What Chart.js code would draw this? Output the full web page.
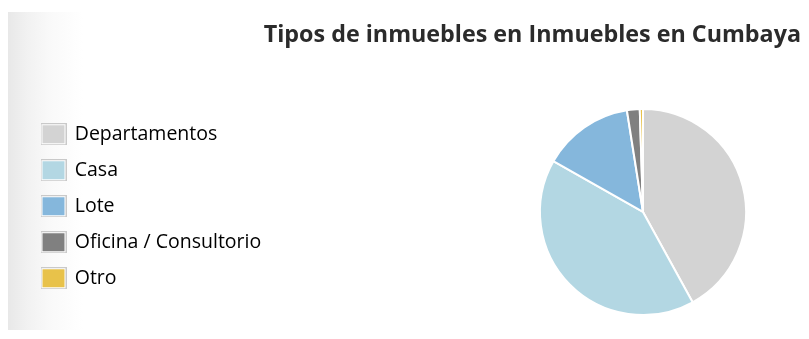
<!DOCTYPE html>
<html>
<head>
<meta charset="utf-8">
<script src="https://cdn.jsdelivr.net/npm/chart.js@4.4.1/dist/chart.umd.min.js"></script>
<style>
  html, body { margin: 0; padding: 0; background: #ffffff; }
  #wrap { position: relative; width: 809px; height: 339px; overflow: hidden; }
  #shade { position: absolute; left: 8px; top: 12px; width: 75px; height: 318px;
           background: linear-gradient(to right, #e8e8e8 0%, #f1f1f1 25%, #f9f9f9 55%, #ffffff 100%); }
  canvas { position: absolute; left: 0; top: 0; }
</style>
</head>
<body>
<div id="wrap">
  <div id="shade"></div>
  <canvas id="c" width="809" height="339"></canvas>
</div>
<script>
const chartTitle = "Tipos de inmuebles en Inmuebles en Cumbaya";
const categories = ["Departamentos", "Casa", "Lote", "Oficina / Consultorio", "Otro"];
const values = [42.0, 41.2, 14.3, 2.0, 0.5];
const colors = ["#d3d3d3", "#b3d7e3", "#85b7dc", "#808080", "#e8c24a"];

function makeSwatch(color) {
  const cv = document.createElement('canvas');
  cv.width = 26; cv.height = 22;
  const g = cv.getContext('2d');
  g.fillStyle = '#c9c9c9';
  g.fillRect(0, 0, 26, 22);
  g.fillStyle = '#ffffff';
  g.fillRect(1, 1, 24, 20);
  g.fillStyle = color;
  g.fillRect(2, 2, 22, 18);
  return cv;
}
const swatches = colors.map(makeSwatch);

const legendWidener = {
  id: 'legendWidener',
  beforeInit(chart) {
    const lg = chart.legend;
    const origFit = lg.fit;
    lg.fit = function () {
      origFit.call(this);
      this.width = 459.5;
    };
  }
};

new Chart(document.getElementById('c'), {
  type: 'pie',
  data: {
    labels: categories,
    datasets: [{
      data: values,
      backgroundColor: colors,
      borderColor: '#ffffff',
      borderWidth: 2
    }]
  },
  options: {
    responsive: false,
    animation: false,
    layout: { padding: { left: 25.5, right: 8, top: 0, bottom: 23 } },
    plugins: {
      title: {
        display: true,
        text: chartTitle,
        align: 'end',
        color: '#2b2b2b',
        font: { family: 'Open Sans', size: 23.3, weight: 'bold', lineHeight: 1.2 },
        padding: { top: 21, bottom: 59 }
      },
      legend: {
        position: 'left',
        align: 'start',
        fullSize: false,
        labels: {
          usePointStyle: true,
          pointStyleWidth: 23,
          padding: 16.5,
          color: '#555555',
          font: { family: 'Open Sans', size: 19.5 },
          generateLabels(chart) {
            return chart.data.labels.map((l, i) => ({
              text: l,
              fillStyle: colors[i],
              strokeStyle: colors[i],
              lineWidth: 0,
              pointStyle: swatches[i],
              hidden: false,
              index: i,
              datasetIndex: 0
            }));
          }
        }
      },
      tooltip: { enabled: false }
    }
  },
  plugins: [legendWidener]
});
</script>
</body>
</html>
